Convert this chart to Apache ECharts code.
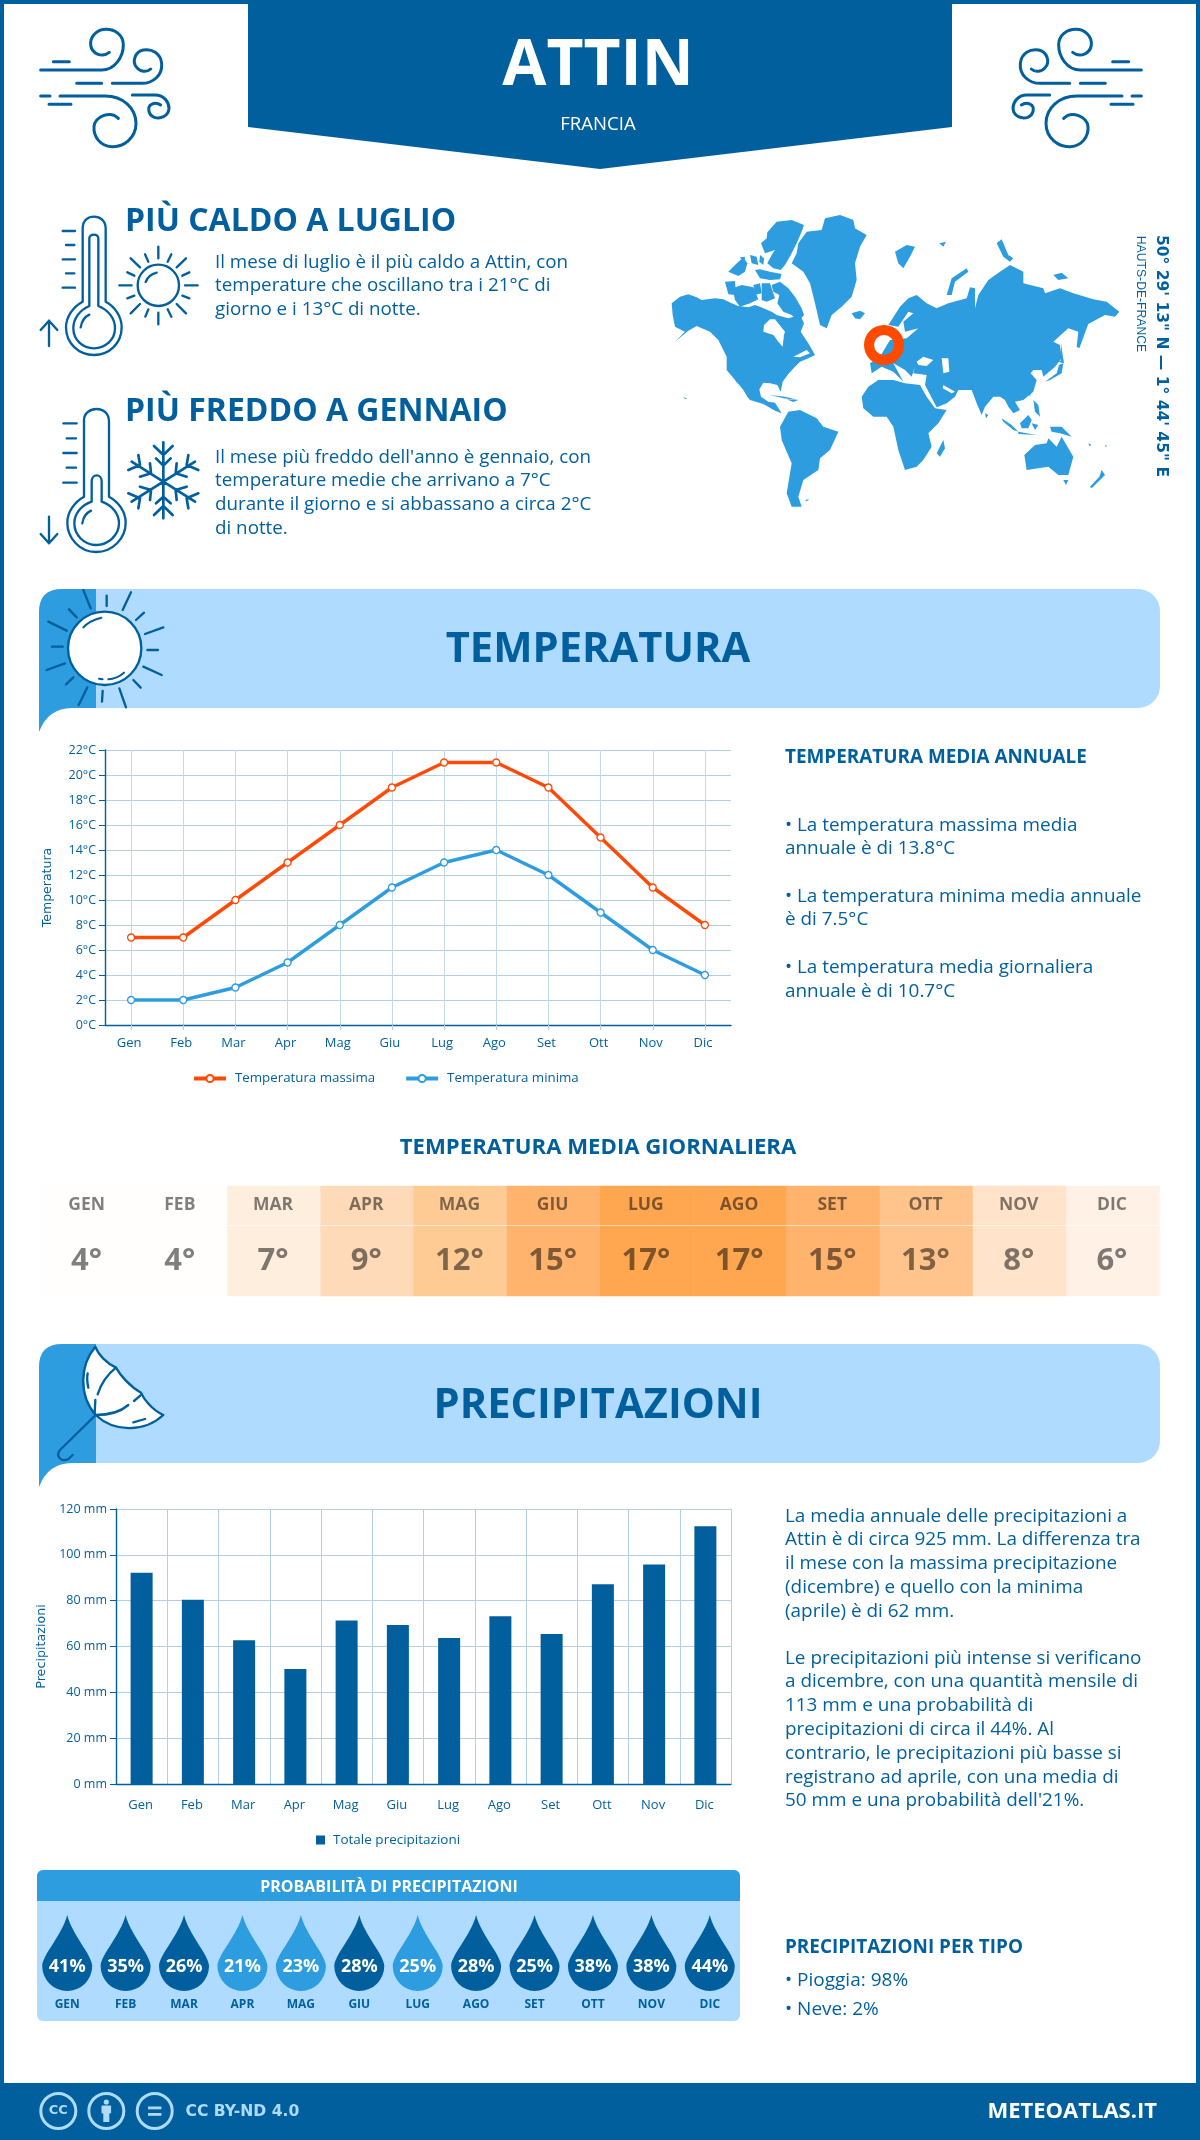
<!DOCTYPE html>
<html>
<head>
<meta charset="utf-8">
<title>Attin - meteo</title>
<style>
    html, body { margin: 0; padding: 0; background: #fff; }
    #chart { width: 1200px; height: 2140px; }
</style>
<script src="https://cdn.jsdelivr.net/npm/echarts@6/dist/echarts.min.js"></script>
</head>
<body>
<div id="chart"></div>
<script>
// dati
var months = ['Gen', 'Feb', 'Mar', 'Apr', 'Mag', 'Giu', 'Lug', 'Ago', 'Set', 'Ott', 'Nov', 'Dic'];
var monthsUpper = ['GEN', 'FEB', 'MAR', 'APR', 'MAG', 'GIU', 'LUG', 'AGO', 'SET', 'OTT', 'NOV', 'DIC'];
var tempMax = [7, 7, 10, 13, 16, 19, 21, 21, 19, 15, 11, 8];
var tempMin = [2, 2, 3, 5, 8, 11, 13, 14, 12, 9, 6, 4];
var tempDaily = [4, 4, 7, 9, 12, 15, 17, 17, 15, 13, 8, 6];
var rainTotal = [92.2, 80.4, 62.7, 50.2, 71.4, 69.4, 63.7, 73.2, 65.5, 87.2, 95.8, 112.5];
var rainProb = [41, 35, 26, 21, 23, 28, 25, 28, 25, 38, 38, 44];
var rainProbLightMonths = ['APR', 'MAG', 'LUG'];

var BLUE = '#015f9e', MID = '#2d9ddf', LIGHT = '#aedbff', ORANGE = '#ff4a07', GRID = '#b4cfe4';
var FONT = '"Open Sans"';

var chart = echarts.init(document.getElementById('chart'), null, { renderer: 'canvas' });

// le icone sono path svg registrati come forme
var shapeCount = 0;
function svg(d, x, y, sx, style, sy) {
    var name = 'icon' + (shapeCount++);
    echarts.graphic.registerShape(name, echarts.graphic.extendPath(d));
    return {
        type: name, x: x, y: y, scaleX: sx, scaleY: sy || Math.abs(sx), silent: true, style: style
    };
}
function stroke(w, color) {
    return { fill: 'none', stroke: color || BLUE, lineWidth: w, lineCap: 'round', lineJoin: 'round' };
}
function txt(text, x, y, size, weight, color, align, rotation, family) {
    return {
        type: 'text', x: x, y: y, rotation: rotation || 0, silent: true,
        style: {
            text: text, fill: color || BLUE, fontSize: size, fontWeight: weight || 'normal',
            fontFamily: family || FONT, align: align || 'left', verticalAlign: 'middle'
        }
    };
}
function rect(x, y, w, h, fill, r) {
    return { type: 'rect', silent: true, shape: { x: x, y: y, width: w, height: h, r: r || 0 }, style: { fill: fill } };
}
function lines(list, x, ys, size) {
    return list.map(function (t, i) { return txt(t, x, ys[i], size); });
}

var WIND = 'M62 180H245C285 180 310 140 310 105C310 75 285 58 258 58C230 58 210 80 212 105C215 130 245 145 268 127' +
    'M100 155H148M170 220H245' +
    'M277 220H365C400 220 428 195 425 160C422 130 395 115 370 120C345 125 335 155 350 172C360 185 380 188 392 177' +
    'M62 258H90M120 258H255C310 258 348 295 348 340C348 385 310 412 275 410C240 408 220 380 222 350C225 320 270 300 295 325' +
    'M87 283H153' +
    'M337 255H405C435 255 447 280 447 295C445 320 420 328 403 322C385 315 380 290 395 283C405 277 415 280 422 285';

var THERMO_HOT = 'M158 305V85C158 60 175 50 192 50C210 50 227 62 227 85V305C255 320 275 350 275 382C275 430 238 465 192 465C146 465 108 430 108 382C108 350 130 320 158 305Z' +
    'M178 318V115C178 100 205 100 205 115V318C235 330 255 355 255 385C255 420 225 445 192 445C158 445 130 420 130 385C130 355 150 330 178 318Z' +
    'M152 382C155 365 165 350 178 344M98 93H135M108 135H133M98 178H135M108 220H133M98 263H135' +
    'M57 438V362M32 390L57 362L82 390';
var THERMO_COLD = 'M162 890V660C162 640 180 627 200 627C220 627 237 640 237 665V890C265 905 287 935 287 968C287 1015 248 1056 198 1056C150 1056 112 1015 112 968C112 935 135 905 162 890Z' +
    'M185 905V845C185 820 215 820 215 845V905C245 915 267 940 267 970C267 1005 235 1035 198 1035C162 1035 133 1005 133 970C133 940 155 915 185 905Z' +
    'M157 970C160 950 170 938 183 932M100 670H140M110 715H138M100 759H140M110 803H138M100 848H140' +
    'M57 950V1030M32 1002L57 1030L82 1002';
var SUN_SMALL = 'M385 140V175M385 338V373M268 256H305M465 256H503M302 175L330 202M468 175L440 202M302 340L330 312M468 340L440 312' +
    'M345 163L355 185M424 163L413 185M292 217L313 227M478 217L457 227M292 295L313 287M478 295L457 287M346 350L355 328M424 350L413 328' +
    'M347 246C352 232 365 222 380 218M447 256A62 62 0 1 1 323 256A62 62 0 1 1 447 256Z';
var FLAKE = 'M400 727V955M305 785L495 905M495 785L305 905M372 738L400 765L428 738M378 775L400 797L422 775M372 945L400 918L428 945M378 910L400 890L422 910' +
    'M475 765L470 795L505 810M440 790L437 820L470 830M325 765L330 795L295 810M360 790L363 820L330 830' +
    'M475 925L470 895L505 880M440 900L437 870L470 860M325 925L330 895L295 880M360 900L363 870L330 860';

var SUN_RAYS = 'M160 30L182 85M230 47V78M303 37L278 90M342 98L318 120M400 142L345 162M352 210H384M340 260L395 285M310 300L332 323M268 325L288 382M218 333L216 365M172 322L146 375M130 292L108 313M105 250L50 270M98 200H66M110 152L55 125M140 112L117 88';
var SUN_SHINE = 'M160 142C175 125 195 118 214 113M235 298C250 297 268 290 282 278M207 296L218 298';
var UMBRELLA = 'M196 35C150 90 145 180 197 240C250 290 340 295 400 240C365 225 340 190 333 173C300 155 270 120 258 98C230 85 205 60 196 35Z';
var UMBRELLA_RIBS = 'M258 98C230 120 212 150 203 178M196 195L194 235M335 178L312 198M295 210C270 232 235 240 197 240M173 115C170 130 172 145 175 158M310 262L345 252' +
    'M197 240L90 345C75 365 95 382 115 372L128 360';

// planisfero semplificato, coordinate del ritaglio 3x
var WORLD = [
    // nord america
    'M35 310L60 290L85 283L110 292L125 300L165 295L190 298L215 310L235 318L265 322L285 315L300 320L335 335L350 345L385 355L420 345L432 370L422 395L445 430L465 465L445 475L420 485L405 500L385 522L368 545L362 575L352 555L330 550L310 548L298 568L303 590L325 605L345 608L365 640L345 632L310 612L270 600L245 570L225 540L200 510L200 470L175 420L150 395L110 378L85 392L45 425L75 395L45 380L38 345Z',
    'M322 97L350 65L395 60L432 75L425 95L410 130L395 160L375 195L362 210L340 205L322 190L335 165L345 150L315 160L303 130L320 115Z',
    'M335 255L360 245L385 265L405 290L425 325L432 345L415 365L395 345L370 335L352 310L358 285L340 275Z',
    'M205 215L225 195L250 172L262 190L255 215L235 228Z',
    'M195 245L225 243L228 285L205 283Z',
    'M218 265L245 255L280 262L295 298L270 310L240 320L225 300Z',
    'M285 210L300 208L330 215L365 222L360 238L330 240L300 235Z',
    'M280 255L300 250L305 280L285 285Z',
    'M305 250L330 250L345 295L320 305L305 300Z',
    'M270 165L290 170L295 195L275 190Z',
    'M240 172L255 170L252 190Z',
    'M300 165L312 175L310 195L298 185Z',
    'M330 585L375 590L415 600L370 595Z',
    'M380 598L415 600L400 606Z',
    // groenlandia e isole artiche
    'M415 130L440 95L485 90L495 55L540 45L580 60L585 85L620 105L600 140L585 190L590 240L575 290L545 320L515 345L500 385L480 375L465 310L450 250L430 215L395 190L410 160Z',
    'M575 340L600 332L615 340L600 358L585 355Z',
    'M705 155L740 135L765 140L750 170L730 205L715 190Z',
    'M860 285L875 235L920 205L925 215L885 245L875 285Z',
    'M1010 130L1025 118L1045 165L1060 175L1050 185L1030 170Z',
    'M1180 225L1205 218L1225 235L1195 240Z',
    'M838 130L858 125L850 140Z',
    // eurasia
    'M685 375L720 320L745 295L770 285L800 310L830 325L865 310L920 295L930 262L945 265L945 325L955 285L985 240L1020 215L1050 195L1090 215L1090 250L1150 265L1155 280L1200 265L1240 280L1300 298L1340 305L1378 335L1365 350L1335 345L1285 372L1280 385L1258 445L1250 440L1255 395L1225 385L1180 425L1200 435L1205 475L1185 500L1150 530L1145 510L1120 510L1112 520L1130 540L1120 575L1090 600L1065 605L1080 630L1060 640L1045 620L1035 600L1020 590L1000 590L975 620L965 645L950 610L935 570L895 570L885 590L860 610L830 622L795 555L800 525L760 520L765 500L755 530L735 510L700 490L730 545L700 515L665 500L635 520L630 490L660 470L690 420L740 415L775 385L735 395L730 365L760 340L745 335L715 380Z',
    'M1203 430L1210 480L1203 490Z',
    // africa, sud america, oceania
    'M605 590L625 560L655 540L700 540L735 550L780 555L800 590L825 625L860 630L835 670L805 700L815 740L790 780L770 800L735 810L715 750L700 680L680 650L640 650L610 625Z',
    'M830 760L850 720L855 745L840 770Z',
    'M360 680L385 635L420 630L470 655L490 680L535 695L510 750L480 775L475 810L430 840L415 890L425 920L395 920L380 880L395 790L365 720Z',
    'M435 900L448 898L440 904Z',
    'M1093 765L1125 735L1160 730L1165 715L1190 740L1205 710L1240 770L1225 825L1195 825L1165 800L1100 810Z',
    'M1210 840L1225 840L1218 855Z',
    'M1295 865L1320 840L1335 825L1325 810L1318 830L1290 860Z',
    'M1155 545L1190 520L1197 495L1210 490L1205 520L1170 540Z',
    'M1195 485L1210 478L1212 490Z',
    'M1105 575L1115 570L1110 590Z',
    'M975 640L985 645L978 655Z',
    'M1025 655L1055 675L1075 695L1060 690L1030 665Z',
    'M1075 695L1130 705L1075 702Z',
    'M1080 670L1105 645L1115 660L1105 685L1085 685Z',
    'M1115 670L1135 675L1125 690Z',
    'M1170 680L1205 680L1235 710L1200 700L1175 695Z',
    'M1120 600L1135 615L1140 650L1125 635Z',
    'M1285 730L1295 735L1288 738Z',
    'M1335 735L1342 738L1336 740Z',
    'M70 590L82 597L74 596Z'
];
// mari interni
var WORLD_HOLES = 'M312 375L330 358L345 358L375 395L372 405L368 440L355 425L340 405L310 395Z' +
    'M770 485L790 470L820 480L800 498L775 495Z' +
    'M845 475L865 475L868 515L850 520Z' +
    'M850 555L885 575L875 580L848 565Z' +
    'M400 470L440 450L450 460L420 472Z' +
    'M230 545L250 570L262 590L245 575Z';

function bannerTail(top) {
    return 'M39 ' + (top + 143) + 'V' + (top + 23) + 'Q39 ' + top + ' 62 ' + top + 'H96V' + (top + 119) +
        'H72Q48 ' + (top + 119) + ' 39 ' + (top + 143) + 'Z';
}

var graphicEls = [
    // cornice
    rect(0, 0, 1200, 4, BLUE), rect(0, 0, 4, 2140, BLUE), rect(1196, 0, 4, 2140, BLUE),
    rect(0, 2083, 1200, 57, BLUE),
    // testata
    { type: 'polygon', silent: true, shape: { points: [[248, 0], [952, 0], [952, 127], [600, 169], [248, 127]] }, style: { fill: BLUE } },
    txt('ATTIN', 598, 67, 64, 'bold', '#fff', 'center'),
    txt('FRANCIA', 598, 125, 18.6, 'normal', '#fff', 'center'),
    svg(WIND, 20, 10, 1 / 3, stroke(9)),
    svg(WIND, 1162, 10, -1 / 3, stroke(9), 1 / 3),

    // piu caldo / piu freddo
    svg(THERMO_HOT, 30, 200, 1 / 3, stroke(7)),
    svg(SUN_SMALL, 30, 200, 1 / 3, stroke(7)),
    svg(THERMO_COLD, 30, 200, 1 / 3, stroke(7)),
    svg(FLAKE, 30, 200, 1 / 3, stroke(8)),
    txt('PIÙ CALDO A LUGLIO', 125, 222, 32, 'bold'),
    txt('PIÙ FREDDO A GENNAIO', 125, 412, 32, 'bold')
];
graphicEls = graphicEls.concat(
    lines(['Il mese di luglio è il più caldo a Attin, con', 'temperature che oscillano tra i 21°C di', 'giorno e i 13°C di notte.'], 215, [263, 286, 310], 18.8),
    lines(["Il mese più freddo dell'anno è gennaio, con", 'temperature medie che arrivano a 7°C', 'durante il giorno e si abbassano a circa 2°C', 'di notte.'], 215, [458, 481, 505, 529], 18.8),
    WORLD.map(function (d) { return svg(d, 660, 200, 1 / 3, { fill: MID }); }),
    [
        // mappa
        svg(WORLD_HOLES, 660, 200, 1 / 3, { fill: '#fff' }),
        { type: 'ring', silent: true, shape: { cx: 884, cy: 345, r: 20, r0: 10 }, style: { fill: '#ff4a00' } },
        txt('50° 29\' 13" N — 1° 44\' 45" E', 1161, 356, 15.5, 'bold', BLUE, 'center', -Math.PI / 2, '"DejaVu Sans"'),
        txt('HAUTS-DE-FRANCE', 1140, 294, 12.2, 'normal', BLUE, 'center', -Math.PI / 2, '"Liberation Sans"'),

        // sezione temperatura
        { type: 'rect', silent: true, shape: { x: 96, y: 589, width: 1064, height: 119, r: [0, 22, 22, 0] }, style: { fill: LIGHT } },
        svg(bannerTail(589), 0, 0, 1, { fill: MID }),
        { type: 'circle', silent: true, x: 30, y: 580, scaleX: 1 / 3, scaleY: 1 / 3, shape: { cx: 224, cy: 205, r: 110 }, style: { fill: '#fff', stroke: BLUE, lineWidth: 7 } },
        svg(SUN_RAYS, 30, 580, 1 / 3, stroke(7)),
        svg(SUN_SHINE, 30, 580, 1 / 3, stroke(6)),
        txt('TEMPERATURA', 598, 650, 41.7, 'bold', BLUE, 'center'),
        txt('TEMPERATURA MEDIA ANNUALE', 785, 758, 18.9, 'bold'),
        txt('TEMPERATURA MEDIA GIORNALIERA', 598, 1148, 22.15, 'bold', BLUE, 'center')
    ],
    lines(['• La temperatura massima media', 'annuale è di 13.8°C', '• La temperatura minima media annuale', 'è di 7.5°C', '• La temperatura media giornaliera', 'annuale è di 10.7°C'],
        785, [826, 849, 897, 920, 968, 992], 18.9),
    [
        // sezione precipitazioni
        { type: 'rect', silent: true, shape: { x: 96, y: 1344, width: 1064, height: 119, r: [0, 22, 22, 0] }, style: { fill: LIGHT } },
        svg(bannerTail(1344), 0, 0, 1, { fill: MID }),
        svg(UMBRELLA, 30, 1335, 1 / 3, { fill: '#fff', stroke: BLUE, lineWidth: 7, lineJoin: 'round' }),
        svg(UMBRELLA_RIBS, 30, 1335, 1 / 3, stroke(7)),
        txt('PRECIPITAZIONI', 598, 1406, 41.7, 'bold', BLUE, 'center')
    ],
    lines(['La media annuale delle precipitazioni a', 'Attin è di circa 925 mm. La differenza tra', 'il mese con la massima precipitazione', '(dicembre) e quello con la minima', '(aprile) è di 62 mm.'],
        785, [1517, 1540, 1564, 1588, 1612], 18.9),
    lines(['Le precipitazioni più intense si verificano', 'a dicembre, con una quantità mensile di', '113 mm e una probabilità di', 'precipitazioni di circa il 44%. Al', 'contrario, le precipitazioni più basse si', 'registrano ad aprile, con una media di', "50 mm e una probabilità dell'21%."],
        785, [1659, 1682, 1706, 1730, 1754, 1778, 1801], 18.9),
    [
        // pannello probabilita
        { type: 'rect', silent: true, shape: { x: 37, y: 1870, width: 703, height: 151, r: 6 }, style: { fill: LIGHT } },
        { type: 'rect', silent: true, shape: { x: 37, y: 1870, width: 703, height: 31, r: [6, 6, 0, 0] }, style: { fill: MID } },
        txt('PROBABILITÀ DI PRECIPITAZIONI', 389, 1887, 16, 'bold', '#fff', 'center'),
        txt('PRECIPITAZIONI PER TIPO', 785, 1948, 18.9, 'bold'),
        txt('• Pioggia: 98%', 785, 1981, 19),
        txt('• Neve: 2%', 785, 2010, 19),

        // piede
        { type: 'circle', silent: true, shape: { cx: 58.3, cy: 2111, r: 17.5 }, style: { fill: 'none', stroke: LIGHT, lineWidth: 3 } },
        { type: 'circle', silent: true, shape: { cx: 106.3, cy: 2111, r: 17.5 }, style: { fill: 'none', stroke: LIGHT, lineWidth: 3 } },
        { type: 'circle', silent: true, shape: { cx: 154.7, cy: 2111, r: 17.5 }, style: { fill: 'none', stroke: LIGHT, lineWidth: 3 } },
        txt('CC', 58.3, 2111, 13, 'bold', LIGHT, 'center', 0, '"DejaVu Sans"'),
        { type: 'circle', silent: true, shape: { cx: 106.3, cy: 2102, r: 2.6 }, style: { fill: LIGHT } },
        rect(101.5, 2105.5, 9.6, 8, LIGHT, 1), rect(103.3, 2112, 6, 10, LIGHT),
        rect(148, 2106.5, 13.4, 2.8, LIGHT), rect(148, 2113, 13.4, 2.8, LIGHT),
        txt('CC BY-ND 4.0', 185.5, 2112, 15.6, 'bold', LIGHT, 'left', 0, '"DejaVu Sans"'),
        txt('METEOATLAS.IT', 1157, 2112, 22, 'bold', '#fff', 'right')
    ]
);

var axisLabelStyle = { color: BLUE, fontFamily: FONT, fontSize: 12.5 };
var axisLine = { show: true, lineStyle: { color: BLUE, width: 1.4 } };

var heatColors = ['#fffefd', '#fff8f2', '#fff1e5', '#feeedd', '#ffe3ca', '#fedab8', '#ffd4ab', '#ffcf9f', '#ffcb95', '#ffc48b', '#ffbc7c', '#ffb36d', '#ffac5c', '#ffa651'];

function heatData() {
    return tempDaily.map(function (v, i) {
        return [i, 0, v];
    });
}

var option = {
    animation: false,
    backgroundColor: '#fff',
    textStyle: { fontFamily: FONT },
    graphic: { elements: graphicEls },
    grid: [
        { left: 105, top: 750, width: 626, height: 275 },
        { left: 116, top: 1509, width: 615, height: 275 },
        { left: 41, top: 1186, width: 1118.5, height: 39 },
        { left: 41, top: 1226, width: 1118.5, height: 70 },
        { left: 38, top: 1915, width: 701, height: 76 }
    ],
    legend: [
        {
            left: 187, top: 1067, itemWidth: 32, itemHeight: 9, itemGap: 29, data: ['Temperatura massima', 'Temperatura minima'],
            lineStyle: { width: 4 },
            textStyle: { color: BLUE, fontFamily: FONT, fontSize: 13.3, padding: [0, 0, 0, 4] }
        },
        {
            left: 311, top: 1828, itemWidth: 9, itemHeight: 9, icon: 'rect', data: ['Totale precipitazioni'],
            textStyle: { color: BLUE, fontFamily: FONT, fontSize: 13.5, padding: [0, 0, 0, 3] }
        }
    ],
    visualMap: {
        show: false, type: 'continuous', min: 4, max: 17, dimension: 2, seriesIndex: [3, 4],
        inRange: { color: heatColors }
    },
    xAxis: [
        {
            type: 'category', gridIndex: 0, data: months,
            axisLine: axisLine, axisTick: { show: true, alignWithLabel: true, length: 5, lineStyle: { color: GRID } },
            axisLabel: Object.assign({ margin: 12, padding: [0, 4, 0, 0] }, axisLabelStyle, { fontSize: 13 }),
            splitLine: { show: true, alignWithLabel: true, lineStyle: { color: '#c4daec', width: 1 } }
        },
        {
            type: 'category', gridIndex: 1, data: months,
            axisLine: axisLine, axisTick: { show: false },
            axisLabel: Object.assign({ margin: 15, padding: [0, 2, 0, 0] }, axisLabelStyle, { fontSize: 13 }),
            splitLine: { show: true, lineStyle: { color: GRID, width: 1 } }
        },
        { type: 'category', gridIndex: 2, data: monthsUpper, show: false },
        { type: 'category', gridIndex: 3, data: monthsUpper, show: false },
        {
            type: 'category', gridIndex: 4, data: monthsUpper,
            axisLine: { show: false }, axisTick: { show: false },
            axisLabel: { color: BLUE, fontFamily: FONT, fontWeight: 'bold', fontSize: 12, margin: 8 }
        }
    ],
    yAxis: [
        {
            type: 'value', gridIndex: 0, min: 0, max: 22, interval: 2,
            name: 'Temperatura', nameLocation: 'middle', nameGap: 51,
            nameTextStyle: { color: BLUE, fontFamily: '"DejaVu Sans"', fontSize: 12.5 },
            axisLine: axisLine, axisTick: { show: true, length: 6, lineStyle: { color: BLUE } },
            axisLabel: Object.assign({ formatter: '{value}°C', margin: 9 }, axisLabelStyle),
            splitLine: { lineStyle: { color: GRID, width: 1 } }
        },
        {
            type: 'value', gridIndex: 1, min: 0, max: 120, interval: 20,
            name: 'Precipitazioni', nameLocation: 'middle', nameGap: 57,
            nameTextStyle: { color: BLUE, fontFamily: '"DejaVu Sans"', fontSize: 12.7 },
            axisLine: axisLine, axisTick: { show: true, length: 6, lineStyle: { color: BLUE } },
            axisLabel: Object.assign({ formatter: '{value} mm', margin: 9 }, axisLabelStyle),
            splitLine: { lineStyle: { color: GRID, width: 1 } }
        },
        { type: 'category', gridIndex: 2, data: ['mese'], show: false },
        { type: 'category', gridIndex: 3, data: ['gradi'], show: false },
        { type: 'category', gridIndex: 4, data: ['prob'], show: false }
    ],
    series: [
        {
            name: 'Temperatura massima', type: 'line', xAxisIndex: 0, yAxisIndex: 0, data: tempMax,
            symbol: 'circle', symbolSize: 7, showAllSymbol: true,
            lineStyle: { color: ORANGE, width: 3.4 },
            itemStyle: { color: '#fff', borderColor: ORANGE, borderWidth: 1.3 }
        },
        {
            name: 'Temperatura minima', type: 'line', xAxisIndex: 0, yAxisIndex: 0, data: tempMin,
            symbol: 'circle', symbolSize: 7, showAllSymbol: true,
            lineStyle: { color: MID, width: 3.4 },
            itemStyle: { color: '#fff', borderColor: MID, borderWidth: 1.3 }
        },
        {
            name: 'Totale precipitazioni', type: 'bar', xAxisIndex: 1, yAxisIndex: 1, data: rainTotal,
            barWidth: 22, itemStyle: { color: BLUE }
        },
        {
            name: 'Mesi', type: 'heatmap', xAxisIndex: 2, yAxisIndex: 2, data: heatData(),
            label: {
                show: true, fontFamily: FONT, fontWeight: 'bold', fontSize: 17.5, color: 'rgba(0,0,0,0.5)',
                offset: [-1, 0],
                formatter: function (p) { return monthsUpper[p.value[0]]; }
            },
            emphasis: { disabled: true }
        },
        {
            name: 'Media giornaliera', type: 'heatmap', xAxisIndex: 3, yAxisIndex: 3, data: heatData(),
            label: {
                show: true, fontFamily: FONT, fontWeight: 'bold', fontSize: 31, color: 'rgba(0,0,0,0.5)',
                offset: [-1, 0],
                formatter: function (p) { return p.value[2] + '°'; }
            },
            emphasis: { disabled: true }
        },
        {
            name: 'Probabilità', type: 'scatter', xAxisIndex: 4, yAxisIndex: 4,
            symbol: 'path://M25 0C30 20 50 40 50 51A25 25 0 0 1 0 51C0 40 20 20 25 0Z',
            symbolSize: [50, 76],
            data: rainProb.map(function (v, i) {
                return {
                    value: [i, 0, v],
                    itemStyle: { opacity: 1, color: rainProbLightMonths.indexOf(monthsUpper[i]) >= 0 ? MID : BLUE }
                };
            }),
            label: {
                show: true, position: 'inside', offset: [0, 14], color: '#fff',
                fontFamily: FONT, fontWeight: 'bold', fontSize: 18,
                formatter: function (p) { return p.value[2] + '%'; }
            },
            emphasis: { disabled: true }
        }
    ]
};

chart.setOption(option);
</script>
</body>
</html>
